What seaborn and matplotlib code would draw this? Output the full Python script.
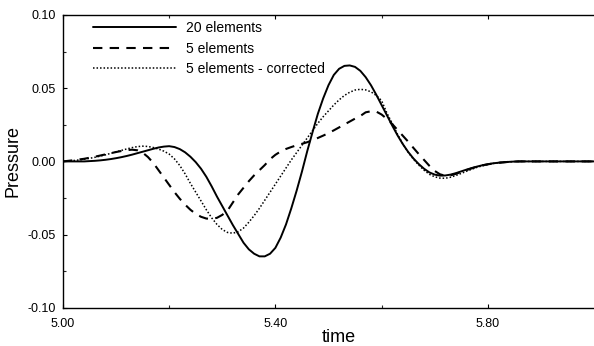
import numpy as np
import pandas as pd
import matplotlib
matplotlib.use("Agg")
import matplotlib.pyplot as plt
import seaborn as sns
from matplotlib.ticker import MultipleLocator, FixedLocator

sns.set_theme(style="white")
plt.rcParams['font.family'] = ['Liberation Sans', 'DejaVu Sans']

time = [5.00, 5.01, 5.02, 5.03, 5.04, 5.05, 5.06, 5.07, 5.08, 5.09,
        5.10, 5.11, 5.12, 5.13, 5.14, 5.15, 5.16, 5.17, 5.18, 5.19,
        5.20, 5.21, 5.22, 5.23, 5.24, 5.25, 5.26, 5.27, 5.28, 5.29,
        5.30, 5.31, 5.32, 5.33, 5.34, 5.35, 5.36, 5.37, 5.38, 5.39,
        5.40, 5.41, 5.42, 5.43, 5.44, 5.45, 5.46, 5.47, 5.48, 5.49,
        5.50, 5.51, 5.52, 5.53, 5.54, 5.55, 5.56, 5.57, 5.58, 5.59,
        5.60, 5.61, 5.62, 5.63, 5.64, 5.65, 5.66, 5.67, 5.68, 5.69,
        5.70, 5.71, 5.72, 5.73, 5.74, 5.75, 5.76, 5.77, 5.78, 5.79,
        5.80, 5.81, 5.82, 5.83, 5.84, 5.85, 5.86, 5.90, 5.95, 6.00]

p_20 = [0.0, 0.0, 0.0, 0.0, 0.0, 0.0002, 0.0004, 0.0007, 0.0011, 0.0016,
        0.0022, 0.0029, 0.0037, 0.0046, 0.0056, 0.0066, 0.0076, 0.0086, 0.0095, 0.0101,
        0.0104, 0.0098, 0.0084, 0.0062, 0.0032, -0.0005, -0.0050, -0.0105, -0.0170, -0.0240,
        -0.0305, -0.0370, -0.0435, -0.0495, -0.0555, -0.0600, -0.0630, -0.0648, -0.0648, -0.0630,
        -0.0590, -0.0520, -0.0430, -0.0320, -0.0200, -0.0070, 0.0070, 0.0200, 0.0325, 0.0430,
        0.0520, 0.0590, 0.0632, 0.0652, 0.0655, 0.0645, 0.0618, 0.0575, 0.0520, 0.0455,
        0.0385, 0.0315, 0.0245, 0.0178, 0.0118, 0.0065, 0.0020, -0.0018, -0.0050, -0.0075,
        -0.0090, -0.0097, -0.0096, -0.0090, -0.0080, -0.0068, -0.0056, -0.0045, -0.0035, -0.0026,
        -0.0019, -0.0013, -0.0009, -0.0006, -0.0003, -0.0001, 0.0, 0.0, 0.0, 0.0]

p_5 = [0.0, 0.0004, 0.0008, 0.0013, 0.0018, 0.0025, 0.0032, 0.0040, 0.0048, 0.0056,
       0.0064, 0.0071, 0.0077, 0.0080, 0.0076, 0.0060, 0.0030, -0.0010, -0.0060, -0.0110,
       -0.0160, -0.0210, -0.0255, -0.0295, -0.0330, -0.0358, -0.0378, -0.0390, -0.0392, -0.0385,
       -0.0365, -0.0335, -0.0280, -0.0225, -0.0180, -0.0135, -0.0095, -0.0060, -0.0025, 0.0015,
       0.0045, 0.0068, 0.0085, 0.0098, 0.0110, 0.0120, 0.0131, 0.0145, 0.0160, 0.0176,
       0.0193, 0.0212, 0.0232, 0.0252, 0.0272, 0.0292, 0.0310, 0.0335, 0.0342, 0.0340,
       0.0320, 0.0290, 0.0255, 0.0215, 0.0175, 0.0135, 0.0092, 0.0050, 0.0010, -0.0030,
       -0.0065, -0.0088, -0.0098, -0.0095, -0.0085, -0.0072, -0.0059, -0.0047, -0.0036, -0.0027,
       -0.0020, -0.0014, -0.0009, -0.0006, -0.0003, -0.0001, 0.0, 0.0, 0.0, 0.0]

p_5c = [0.0, 0.0003, 0.0006, 0.0010, 0.0015, 0.0021, 0.0028, 0.0036, 0.0045, 0.0055,
        0.0065, 0.0075, 0.0085, 0.0094, 0.0101, 0.0104, 0.0102, 0.0095, 0.0084, 0.0070,
        0.0050, 0.0017, -0.0028, -0.0085, -0.0150, -0.0210, -0.0270, -0.0330, -0.0385, -0.0430,
        -0.0465, -0.0485, -0.0490, -0.0480, -0.0455, -0.0415, -0.0370, -0.0320, -0.0265, -0.0210,
        -0.0155, -0.0100, -0.0045, 0.0010, 0.0060, 0.0110, 0.0160, 0.0210, 0.0260, 0.0305,
        0.0345, 0.0385, 0.0420, 0.0450, 0.0472, 0.0487, 0.0492, 0.0488, 0.0475, 0.0450,
        0.0415, 0.0330, 0.0260, 0.0185, 0.0120, 0.0063, 0.0015, -0.0025, -0.0060, -0.0088,
        -0.0105, -0.0114, -0.0115, -0.0108, -0.0096, -0.0082, -0.0067, -0.0053, -0.0040, -0.0030,
        -0.0021, -0.0014, -0.0009, -0.0006, -0.0003, -0.0001, 0.0, 0.0, 0.0, 0.0]

labels = ["20 elements", "5 elements", "5 elements - corrected"]
x_ticks = [5.00, 5.40, 5.80]
x_ticklabels = ["5.00", "5.40", "5.80"]
y_ticks = [-0.10, -0.05, 0.00, 0.05, 0.10]
y_ticklabels = ["-0.10", "-0.05", "0.00", "0.05", "0.10"]

fig = plt.figure(figsize=(5.94, 3.46), dpi=100)
ax = fig.add_axes([0.106, 0.110, 0.894, 0.847])

styles = [dict(linestyle='-', linewidth=1.4),
          dict(linestyle=(0, (4.5, 3.5)), linewidth=1.5),
          dict(linestyle=(0, (1, 1.3)), linewidth=1.1)]
for series, lab, st in zip([p_20, p_5, p_5c], labels, styles):
    df = pd.DataFrame({"time": time, "Pressure": series})
    sns.lineplot(data=df, x="time", y="Pressure", ax=ax, color='black',
                 label=lab, **st)

ax.set_xlim(5.0, 6.0)
ax.set_ylim(-0.10, 0.10)
ax.xaxis.set_major_locator(FixedLocator(x_ticks))
ax.set_xticklabels(x_ticklabels)
ax.xaxis.set_minor_locator(FixedLocator([5.2, 5.6]))
ax.yaxis.set_major_locator(FixedLocator(y_ticks))
ax.set_yticklabels(y_ticklabels)
ax.yaxis.set_minor_locator(MultipleLocator(0.025))

ax.tick_params(axis='both', which='major', direction='in', length=3, width=0.8,
               labelsize=9, colors='black')
ax.tick_params(axis='both', which='minor', direction='in', length=2, width=0.8)
ax.tick_params(axis='x', which='major', pad=7)
ax.tick_params(axis='y', which='major', pad=5)
ax.tick_params(axis='x', top=True, which='both', bottom=True)
ax.tick_params(axis='y', left=True, which='both')

for s in ['left', 'bottom', 'top']:
    ax.spines[s].set_visible(True)
    ax.spines[s].set_color('black')
    ax.spines[s].set_linewidth(1.0)
ax.spines['right'].set_visible(False)

ax.set_xlabel("time", fontsize=13, color='black')
ax.set_ylabel("Pressure", fontsize=13, color='black')
ax.xaxis.set_label_coords(0.52, -0.072)
ax.yaxis.set_label_coords(-0.078, 0.5)

leg = ax.legend(loc='upper left', bbox_to_anchor=(0.056, 0.978), frameon=False,
                fontsize=10, handlelength=6.0, handletextpad=0.7,
                labelspacing=0.45, borderpad=0, borderaxespad=0)
for t in leg.get_texts():
    t.set_color('black')

fig.savefig("out.png", dpi=100, facecolor='white')
